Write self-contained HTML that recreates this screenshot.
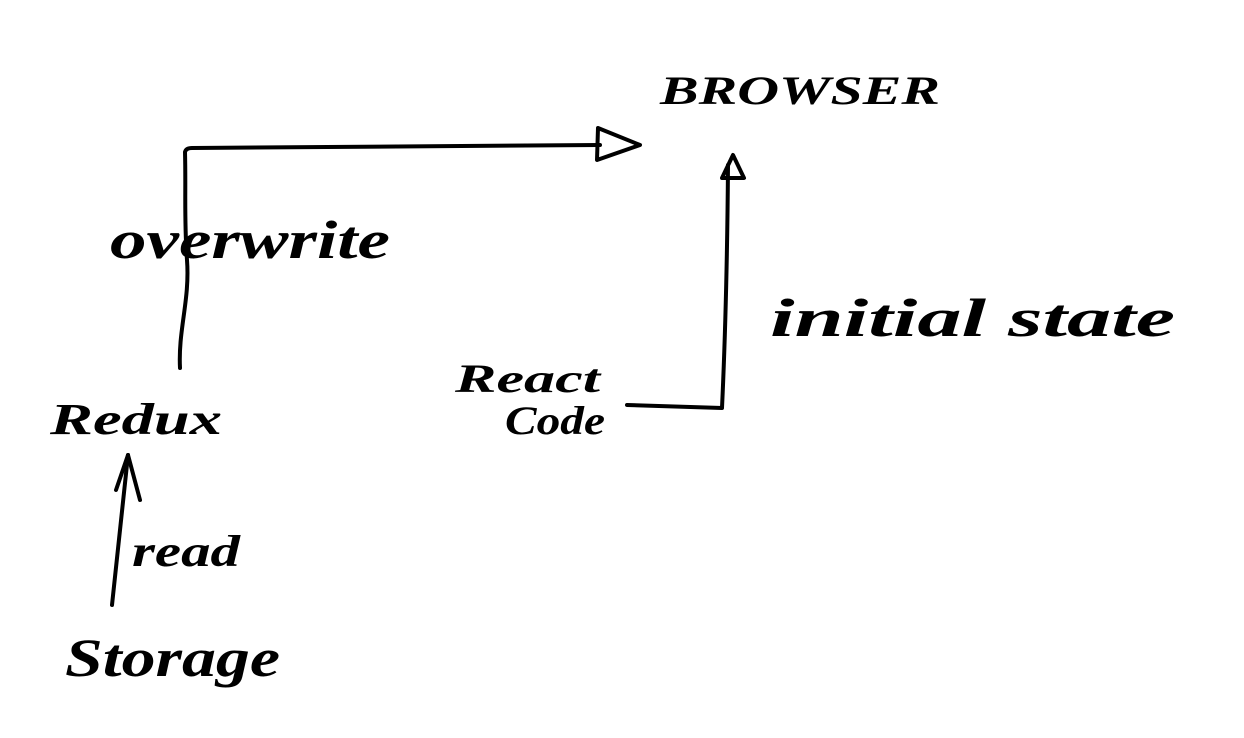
<!DOCTYPE html>
<html><head><meta charset="utf-8"><style>
html,body{margin:0;padding:0;background:#fff;}
svg{display:block}
text{font-family:"Liberation Serif",serif;font-style:italic;font-weight:bold;fill:#000}
</style></head><body>
<svg width="1244" height="738" viewBox="0 0 1244 738" xmlns="http://www.w3.org/2000/svg">
<g fill="none" stroke="#000" stroke-width="4" stroke-linecap="round" stroke-linejoin="round">
<path d="M180 368 C178 330 190 300 187 260 C184 220 186 190 185 152 Q186 148 192 148 L600 145"/>
<path d="M598 128 L640 145 L597 160 Z"/>
<path d="M627 405 L722 408 Q727 300 728 165"/>
<path d="M722 178 L733 155 L744 178 Z"/>
<path d="M112 605 L128 455"/>
<path d="M128 455 L140 500 M128 455 L116 490"/>
</g>
<text x="660" y="104" font-size="40" textLength="280" lengthAdjust="spacingAndGlyphs">BROWSER</text>
<text x="110" y="258" font-size="54" textLength="280" lengthAdjust="spacingAndGlyphs">overwrite</text>
<text x="770" y="336" font-size="54" textLength="405" lengthAdjust="spacingAndGlyphs">initial state</text>
<text x="455" y="392" font-size="40" textLength="145" lengthAdjust="spacingAndGlyphs">React</text>
<text x="505" y="434" font-size="40" textLength="100" lengthAdjust="spacingAndGlyphs">Code</text>
<text x="50" y="434" font-size="44" textLength="172" lengthAdjust="spacingAndGlyphs">Redux</text>
<text x="132" y="566" font-size="44" textLength="108" lengthAdjust="spacingAndGlyphs">read</text>
<text x="65" y="676" font-size="54" textLength="215" lengthAdjust="spacingAndGlyphs">Storage</text>
</svg>
</body></html>
